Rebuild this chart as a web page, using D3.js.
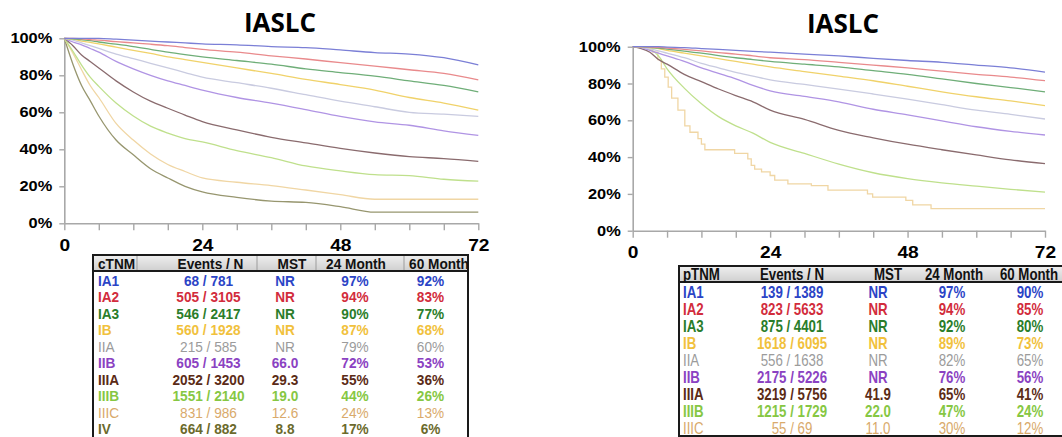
<!DOCTYPE html>
<html>
<head>
<meta charset="utf-8">
<script src="https://cdn.jsdelivr.net/npm/d3@7"></script>
<style>
  body { margin: 0; background: #fff; }
  svg { display: block; }
</style>
</head>
<body>
<svg id="chart" width="1062" height="437"></svg>
<script>
// ---------- data ----------
// months where survival was read off the curves
const months = [0, 1.5, 3, 4.5, 6, 9, 12, 15, 18, 21, 24, 30, 36, 42, 48, 54, 60, 66, 72];
const xTicks = [0, 6, 12, 18, 24, 30, 36, 42, 48, 54, 60, 66, 72];
const yTicks = [0, 0.2, 0.4, 0.6, 0.8, 1];

// clinical stage (left)
const cIA1  = [1, 1, 1, 1, 1, 0.995, 0.99, 0.985, 0.98, 0.975, 0.97, 0.965, 0.955, 0.95, 0.937, 0.923, 0.915, 0.895, 0.856];
const cIA2  = [1, 1, 0.997, 0.993, 0.99, 0.982, 0.975, 0.968, 0.96, 0.95, 0.94, 0.925, 0.905, 0.888, 0.868, 0.85, 0.83, 0.81, 0.775];
const cIA3  = [1, 0.997, 0.993, 0.987, 0.98, 0.968, 0.955, 0.94, 0.925, 0.912, 0.90, 0.88, 0.86, 0.835, 0.815, 0.795, 0.77, 0.745, 0.71];
const cIB   = [1, 0.995, 0.985, 0.978, 0.97, 0.952, 0.935, 0.918, 0.90, 0.885, 0.87, 0.84, 0.81, 0.778, 0.75, 0.72, 0.68, 0.65, 0.612];
const cIIA  = [1, 0.99, 0.975, 0.96, 0.945, 0.915, 0.89, 0.865, 0.84, 0.815, 0.79, 0.76, 0.73, 0.695, 0.66, 0.63, 0.60, 0.59, 0.578];
const cIIB  = [1, 0.98, 0.965, 0.945, 0.925, 0.875, 0.835, 0.80, 0.77, 0.745, 0.72, 0.68, 0.65, 0.615, 0.578, 0.548, 0.53, 0.50, 0.475];
const cIIIA = [1, 0.96, 0.91, 0.875, 0.84, 0.77, 0.71, 0.66, 0.622, 0.585, 0.55, 0.505, 0.465, 0.435, 0.405, 0.38, 0.36, 0.35, 0.335];
const cIIIB = [1, 0.93, 0.855, 0.79, 0.74, 0.65, 0.58, 0.525, 0.488, 0.458, 0.44, 0.393, 0.355, 0.31, 0.283, 0.263, 0.258, 0.238, 0.228];
const cIIIC = [1, 0.92, 0.83, 0.745, 0.68, 0.54, 0.45, 0.375, 0.318, 0.28, 0.245, 0.222, 0.204, 0.18, 0.155, 0.13, 0.13, 0.13, 0.13];
const cIV   = [1, 0.86, 0.745, 0.663, 0.58, 0.45, 0.37, 0.295, 0.245, 0.20, 0.17, 0.14, 0.12, 0.113, 0.09, 0.06, 0.06, 0.06, 0.06];

// pathologic stage (right)
const pIA1  = [1, 1, 1, 1, 0.998, 0.995, 0.99, 0.985, 0.98, 0.975, 0.97, 0.96, 0.95, 0.937, 0.925, 0.915, 0.90, 0.885, 0.862];
const pIA2  = [1, 1, 0.998, 0.996, 0.993, 0.985, 0.977, 0.968, 0.96, 0.95, 0.94, 0.93, 0.915, 0.90, 0.885, 0.867, 0.85, 0.835, 0.815];
const pIA3  = [1, 1, 0.997, 0.993, 0.987, 0.976, 0.965, 0.952, 0.94, 0.93, 0.92, 0.905, 0.89, 0.87, 0.85, 0.825, 0.80, 0.778, 0.755];
const pIB   = [1, 0.998, 0.995, 0.99, 0.98, 0.965, 0.95, 0.935, 0.92, 0.905, 0.89, 0.865, 0.84, 0.815, 0.785, 0.755, 0.728, 0.705, 0.68];
const pIIA  = [1, 0.997, 0.988, 0.977, 0.965, 0.94, 0.91, 0.885, 0.86, 0.84, 0.82, 0.795, 0.77, 0.743, 0.715, 0.685, 0.655, 0.632, 0.607];
const pIIB  = [1, 0.995, 0.98, 0.965, 0.95, 0.92, 0.885, 0.855, 0.825, 0.79, 0.76, 0.73, 0.70, 0.66, 0.63, 0.597, 0.565, 0.54, 0.52];
const pIIIA = [1, 0.99, 0.97, 0.93, 0.905, 0.85, 0.81, 0.77, 0.734, 0.70, 0.655, 0.605, 0.545, 0.505, 0.47, 0.44, 0.412, 0.385, 0.365];
const pIIIB = [1, 0.995, 0.985, 0.95, 0.88, 0.775, 0.69, 0.62, 0.57, 0.53, 0.48, 0.42, 0.362, 0.315, 0.283, 0.26, 0.242, 0.225, 0.21];
// small group, drawn as real steps
const pIIICMonths = [0, 2.6, 3.5, 4.4, 5.0, 5.6, 6.2, 6.8, 7.9, 9.1, 10.0, 11.4, 12.0, 12.6, 17.8, 20.1, 20.7, 21.3, 22.5, 24.0, 24.8, 27.1, 31.2, 34.1, 41.0, 41.9, 47.7, 48.9, 52.1, 72];
const pIIIC = [1, 0.99, 0.97, 0.93, 0.88, 0.835, 0.78, 0.72, 0.655, 0.57, 0.535, 0.50, 0.47, 0.44, 0.42, 0.39, 0.355, 0.335, 0.32, 0.30, 0.275, 0.255, 0.245, 0.22, 0.20, 0.183, 0.165, 0.14, 0.12, 0.12];

// tables
const cStages = ["IA1", "IA2", "IA3", "IB", "IIA", "IIB", "IIIA", "IIIB", "IIIC", "IV"];
const cEvents = ["68 / 781", "505 / 3105", "546 / 2417", "560 / 1928", "215 / 585", "605 / 1453", "2052 / 3200", "1551 / 2140", "831 / 986", "664 / 882"];
const cMST = ["NR", "NR", "NR", "NR", "NR", "66.0", "29.3", "19.0", "12.6", "8.8"];
const c24 = ["97%", "94%", "90%", "87%", "79%", "72%", "55%", "44%", "24%", "17%"];
const c60 = ["92%", "83%", "77%", "68%", "60%", "53%", "36%", "26%", "13%", "6%"];

const pStages = ["IA1", "IA2", "IA3", "IB", "IIA", "IIB", "IIIA", "IIIB", "IIIC"];
const pEvents = ["139 / 1389", "823 / 5633", "875 / 4401", "1618 / 6095", "556 / 1638", "2175 / 5226", "3219 / 5756", "1215 / 1729", "55 / 69"];
const pMST = ["NR", "NR", "NR", "NR", "NR", "NR", "41.9", "22.0", "11.0"];
const p24 = ["97%", "94%", "92%", "89%", "82%", "76%", "65%", "47%", "30%"];
const p60 = ["90%", "85%", "80%", "73%", "65%", "56%", "41%", "24%", "12%"];

const headers = ["Events / N", "MST", "24 Month", "60 Month"];

// ---------- styles ----------
const lineColor = {
  IA1: "#7b7fd6", IA2: "#e98a8c", IA3: "#6fae78", IB: "#f0d26a", IIA: "#c9cbe0",
  IIB: "#b094e4", IIIA: "#8a6b6e", IIIB: "#bfe08c", IIIC: "#f0d6a4", IV: "#97966f"
};
const textColor = {
  IA1: "#2b44c6", IA2: "#d22c3c", IA3: "#2a7d2a", IB: "#f1c13c", IIA: "#9b9b9b",
  IIB: "#8b42c2", IIIA: "#5b2b16", IIIB: "#86c743", IIIC: "#d9aa6b", IV: "#6b6a2c"
};
const lightRows = ["IIA", "IIIC"];
const sans = "'Liberation Sans', Arial, sans-serif";
const stretch = 1.13;   // axis labels are a little wide in the picture

const svg = d3.select("#chart");
const defs = svg.append("defs");
const grad = defs.append("linearGradient").attr("id", "hdr")
  .attr("x1", 0).attr("y1", 0).attr("x2", 0).attr("y2", 1);
grad.append("stop").attr("offset", "0%").attr("stop-color", "#efefef");
grad.append("stop").attr("offset", "100%").attr("stop-color", "#cfcfcf");

/*
  draw one survival panel
*/
function drawPanel(o, series) {
  const g = svg.append("g");
  const x = d3.scaleLinear().domain([0, 72]).range([o.left, o.right]);
  const y = d3.scaleLinear().domain([0, 1]).range([o.bottom, o.top]);

  g.append("text")
    .attr("x", o.titleX).attr("y", o.titleY)
    .attr("text-anchor", "middle")
    .attr("font-family", "'Open Sans', Lato, sans-serif")
    .attr("font-weight", 700)
    .attr("font-size", 26)
    .text("IASLC");

  // y axis
  const ya = g.append("g")
    .attr("transform", "translate(" + o.left + ",0)")
    .call(d3.axisLeft(y).tickValues(yTicks).tickFormat(d3.format(".0%"))
      .tickSize(5).tickSizeOuter(0).tickPadding(7));
  ya.select(".domain").attr("stroke", "#a8a8a8").attr("stroke-width", 1.6);
  ya.selectAll(".tick line").attr("stroke", "#a8a8a8").attr("stroke-width", 1.4);
  ya.selectAll(".tick text")
    .attr("font-family", sans).attr("font-weight", "bold").attr("font-size", 14.5)
    .attr("fill", "#000")
    .attr("x", -12 / stretch)
    .attr("transform", "scale(" + stretch + ",1)");

  // x axis
  const xa = g.append("g")
    .attr("transform", "translate(0," + o.bottom + ")")
    .call(d3.axisBottom(x).tickValues(xTicks)
      .tickFormat(function (d) { return d % 24 === 0 ? d : ""; })
      .tickSize(7).tickSizeOuter(0).tickPadding(o.xPad));
  xa.select(".domain").attr("stroke", "#a8a8a8").attr("stroke-width", 1.6);
  xa.selectAll(".tick line").attr("stroke", "#a8a8a8").attr("stroke-width", 1.4);
  xa.selectAll(".tick text")
    .attr("font-family", sans).attr("font-weight", "bold").attr("font-size", 17)
    .attr("fill", "#000")
    .attr("transform", "scale(" + stretch + ",1)");

  // curves, worst stage first so the good ones sit on top
  const line = d3.line()
    .x(function (d) { return x(d[0]); })
    .y(function (d) { return y(d[1]); });

  series.slice().reverse().forEach(function (s) {
    g.append("path")
      .datum(d3.zip(s.t, s.v))
      .attr("d", line.curve(s.step ? d3.curveStepAfter : d3.curveMonotoneX))
      .attr("fill", "none")
      .attr("stroke", lineColor[s.name])
      .attr("stroke-width", 1.3);
  });
}

/*
  draw one stage table
*/
function drawTable(o, title, stages, cols) {
  const g = svg.append("g");
  const hdrTop = o.top, hdrBot = o.top + o.hdrH;

  g.append("rect")
    .attr("x", o.left).attr("y", hdrTop)
    .attr("width", o.right - o.left).attr("height", o.hdrH)
    .attr("fill", "url(#hdr)");
  o.seps.forEach(function (sx) {
    g.append("line").attr("x1", sx).attr("x2", sx)
      .attr("y1", hdrTop).attr("y2", hdrBot)
      .attr("stroke", "#9c9c9c").attr("stroke-width", 1);
  });

  // outer frame + header rule
  g.append("rect")
    .attr("x", o.left).attr("y", hdrTop)
    .attr("width", o.right - o.left).attr("height", o.bottom - hdrTop)
    .attr("fill", "none").attr("stroke", "#1a1a1a").attr("stroke-width", 2);
  g.append("line").attr("x1", o.left).attr("x2", o.right)
    .attr("y1", hdrBot).attr("y2", hdrBot)
    .attr("stroke", "#1a1a1a").attr("stroke-width", 2);

  function put(txt, px, py, anchor, fill, weight) {
    g.append("text")
      .attr("transform", "translate(" + px + "," + py + ") scale(" + o.squeeze + ",1)")
      .attr("text-anchor", anchor)
      .attr("font-family", sans)
      .attr("font-weight", weight)
      .attr("font-size", o.fs)
      .attr("fill", fill)
      .text(txt);
  }

  put(title, o.labelX, o.hdrBase, "start", "#111", "bold");
  headers.forEach(function (h, i) {
    put(h, o.hdrX[i], o.hdrBase, "middle", "#111", "bold");
  });

  stages.forEach(function (st, r) {
    const cy = o.row0 + r * o.rowH + 5.5;
    const w = lightRows.indexOf(st) >= 0 ? "normal" : "bold";
    put(st, o.labelX, cy, "start", textColor[st], w);
    cols.forEach(function (c, i) {
      put(c[r], o.colX[i], cy, "middle", textColor[st], w);
    });
  });
}

// ---------- left: clinical ----------
drawPanel(
  { left: 64.3, right: 478.3, top: 38.3, bottom: 223.3, titleX: 280, titleY: 32, xPad: 9 },
  [
    { name: "IA1", t: months, v: cIA1 }, { name: "IA2", t: months, v: cIA2 },
    { name: "IA3", t: months, v: cIA3 }, { name: "IB", t: months, v: cIB },
    { name: "IIA", t: months, v: cIIA }, { name: "IIB", t: months, v: cIIB },
    { name: "IIIA", t: months, v: cIIIA }, { name: "IIIB", t: months, v: cIIIB },
    { name: "IIIC", t: months, v: cIIIC }, { name: "IV", t: months, v: cIV }
  ]
);

drawTable(
  {
    left: 93, right: 468, top: 255, hdrH: 16, bottom: 441, fs: 15.5, squeeze: 0.88,
    labelX: 98, hdrBase: 268.5, hdrX: [210.5, 292, 356, 439],
    seps: [137, 257, 316, 404],
    row0: 280, rowH: 16.5, colX: [208.5, 285, 355, 430.5]
  },
  "cTNM", cStages, [cEvents, cMST, c24, c60]
);

// ---------- right: pathologic ----------
drawPanel(
  { left: 632.7, right: 1045, top: 46.7, bottom: 230.7, titleX: 843, titleY: 33, xPad: 8 },
  [
    { name: "IA1", t: months, v: pIA1 }, { name: "IA2", t: months, v: pIA2 },
    { name: "IA3", t: months, v: pIA3 }, { name: "IB", t: months, v: pIB },
    { name: "IIA", t: months, v: pIIA }, { name: "IIB", t: months, v: pIIB },
    { name: "IIIA", t: months, v: pIIIA }, { name: "IIIB", t: months, v: pIIIB },
    { name: "IIIC", t: pIIICMonths, v: pIIIC, step: true }
  ]
);

drawTable(
  {
    left: 679, right: 1080, top: 266, hdrH: 16, bottom: 436, fs: 16, squeeze: 0.83,
    labelX: 683, hdrBase: 280, hdrX: [792, 888, 954, 1029],
    seps: [],
    row0: 292.3, rowH: 17, colX: [792, 878, 952, 1030]
  },
  "pTNM", pStages, [pEvents, pMST, p24, p60]
);
</script>
</body>
</html>
